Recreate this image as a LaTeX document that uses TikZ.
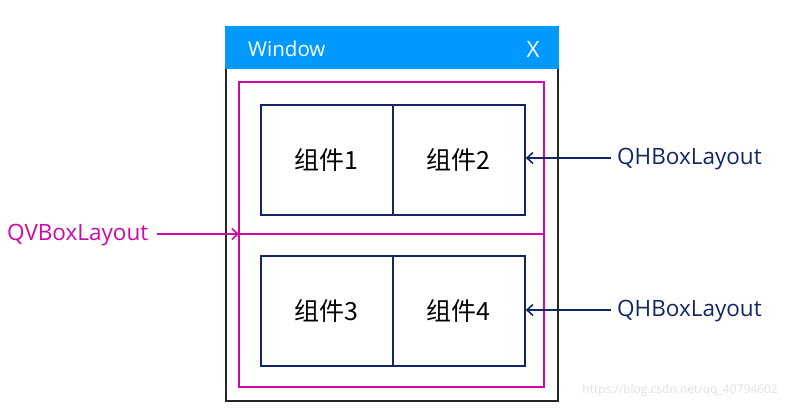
\documentclass[tikz,border=0pt]{standalone}
\usepackage{fontspec}
\setmainfont{Open Sans}
\newfontfamily\cjk{Noto Sans CJK SC}
\usetikzlibrary{arrows.meta}
\definecolor{tbblue}{RGB}{0,153,255}
\definecolor{mag}{RGB}{208,8,166}
\definecolor{navy}{RGB}{18,38,100}
\tikzset{
  lbl/.style={inner sep=0pt, font=\fontsize{22.5}{26}\selectfont},
  cell/.style={draw=navy, line width=1.8pt, minimum width=132pt, minimum height=110pt, inner sep=0pt, font=\cjk\fontsize{25}{30}\selectfont},
  arr/.style={-{Straight Barb[length=6pt,width=11pt]}, line width=1.6pt}
}
\begin{document}
\begin{tikzpicture}[x=1pt,y=-1pt]
\useasboundingbox (0,0) rectangle (785,410);
% window
\draw[black!85, line width=1.5pt] (226,27) rectangle (558,401);
\fill[tbblue] (225.25,26.25) rectangle (558.75,69);
\node[lbl, text=white, anchor=west, font=\fontsize{20.5}{24}\selectfont] (title) at (248,49) {Window};
\node[lbl, text=white] (close) at (533,49) {X};
% vertical layout
\draw[mag, line width=1.8pt] (239,82) rectangle (544,387);
\coordinate (vl) at (239,234);
\coordinate (vr) at (544,234);
\draw[mag, line width=1.8pt] (vl) -- (vr);
% cells
\node[cell, anchor=north west] (c1) at (260,104) {组件1};
\node[cell, anchor=north west] (c2) at (392,104) {组件2};
\node[cell, anchor=north west] (c3) at (260,255) {组件3};
\node[cell, anchor=north west] (c4) at (392,255) {组件4};
% labels
\node[lbl, text=mag, anchor=west] (qv) at (7,235) {QVBoxLayout};
\node[lbl, text=navy, anchor=west] (qh1) at (617,159) {QHBoxLayout};
\node[lbl, text=navy, anchor=west] (qh2) at (617,311) {QHBoxLayout};
\draw[arr, mag] (157,234) -- (vl);
\draw[arr, navy] ([xshift=-6pt]qh1.west |- 0,158) -- (c2.east |- 0,158);
\draw[arr, navy] ([xshift=-6pt]qh2.west |- 0,310) -- (c4.east |- 0,310);
\node[inner sep=0pt, anchor=east, text=black!12, font=\fontsize{12}{14}\selectfont] (wm) at (778,390) {https://blog.csdn.net/qq\_40794602};
\end{tikzpicture}
\end{document}
